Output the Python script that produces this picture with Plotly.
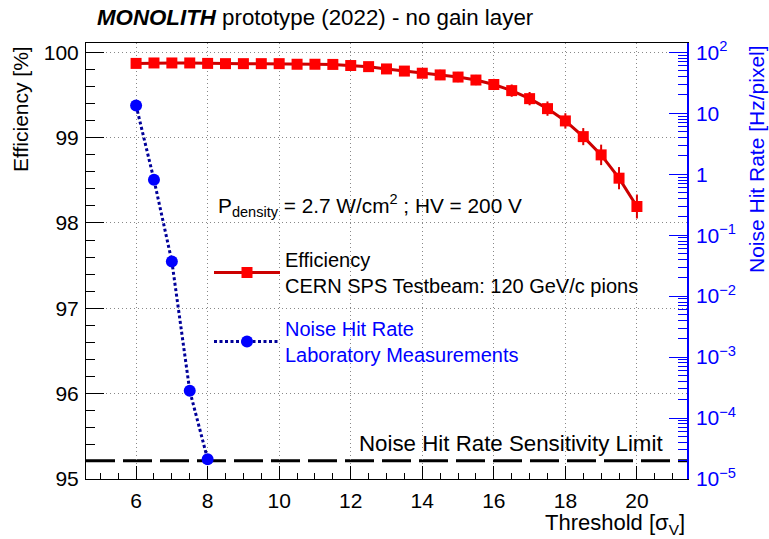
import plotly.graph_objects as go

# ---------------- data ----------------
threshold_eff = [6.0, 6.5, 7.0, 7.5, 8.0, 8.5, 9.0, 9.5, 10.0, 10.5, 11.0, 11.5, 12.0, 12.5,
                 13.0, 13.5, 14.0, 14.5, 15.0, 15.5, 16.0, 16.5, 17.0, 17.5, 18.0, 18.5,
                 19.0, 19.5, 20.0]
efficiency = [99.870, 99.875, 99.875, 99.875, 99.870, 99.867, 99.867, 99.867, 99.867, 99.860,
              99.860, 99.858, 99.845, 99.832, 99.805, 99.780, 99.755, 99.735, 99.710, 99.675,
              99.623, 99.551, 99.457, 99.340, 99.196, 99.012, 98.798, 98.525, 98.193]
efficiency_err = [0.04, 0.04, 0.04, 0.04, 0.04, 0.04, 0.04, 0.04, 0.04, 0.04, 0.04, 0.04,
                  0.04, 0.05, 0.05, 0.05, 0.05, 0.06, 0.06, 0.06, 0.066, 0.072, 0.078,
                  0.084, 0.09, 0.10, 0.12, 0.13, 0.14]

threshold_noise = [6.0, 6.5, 7.0, 7.5, 8.0]
noise_rate = [13.4, 0.81, 0.037, 2.8e-4, 2.1e-5]
noise_limit = 2e-5

x_ticks = [6, 8, 10, 12, 14, 16, 18, 20]
eff_ticks = [95, 96, 97, 98, 99, 100]
noise_ticks = [1e-5, 1e-4, 1e-3, 1e-2, 1e-1, 1, 10, 100]
noise_tick_labels = ["10<sup>\u22125</sup>", "10<sup>\u22124</sup>", "10<sup>\u22123</sup>",
                     "10<sup>\u22122</sup>", "10<sup>\u22121</sup>", "1", "10", "10<sup>2</sup>"]
noise_minor = [m * t for t in noise_ticks[:-1] for m in range(2, 10)]

x_range = [4.6, 21.4]
eff_range = [95.0, 100.109]
# right axis maps 95% -> 1e-5 and 100% -> 1e2
log_range = [-5.0, -5.0 + (eff_range[1] - 95.0) * 7.0 / 5.0]

FONT = "Liberation Sans, Arial, Helvetica, sans-serif"
L, R, T, B = 86, 687, 43, 479
W, H = 769, 539


def px(xp):
    return (xp - L) / (R - L)


def py(yp):
    return (B - yp) / (B - T)


fig = go.Figure()

fig.add_trace(go.Scatter(
    x=threshold_eff, y=efficiency,
    error_y=dict(type="data", array=efficiency_err, color="#dd0000", thickness=2, width=0),
    mode="lines+markers",
    line=dict(color="#cc0000", width=3),
    marker=dict(symbol="square", size=11, color="#ff0000"),
    name="Efficiency<br>CERN SPS Testbeam: 120 GeV/c pions",
    legendgroup="a", yaxis="y",
))

fig.add_trace(go.Scatter(
    x=threshold_noise, y=noise_rate,
    mode="lines+markers",
    line=dict(color="#000099", width=3, dash="3px,2.5px"),
    marker=dict(symbol="circle", size=12, color="#0000ff"),
    name="<span style='color:#0000ff'>Noise Hit Rate</span><br>"
         "<span style='color:#0000ff'>Laboratory Measurements</span>",
    legendgroup="b", yaxis="y2",
))

fig.add_shape(type="line", xref="paper", x0=0, x1=1, yref="y2", y0=noise_limit, y1=noise_limit,
              line=dict(color="black", width=3, dash="29px,8px"), layer="below")

annotations = [
    dict(text="<b><i>MONOLITH</i></b> prototype (2022) - no gain layer",
         x=px(95), y=py(18), xanchor="left", yanchor="middle",
         font=dict(size=22.3, color="black")),
    dict(text="P<sub>density</sub> = 2.7 W/cm<sup>2</sup> ; HV = 200 V",
         x=px(216), y=py(205), xanchor="left", yanchor="middle",
         font=dict(size=20.8, color="black")),
    dict(text="Noise Hit Rate Sensitivity Limit",
         x=px(665), y=py(443), xanchor="right", yanchor="middle",
         font=dict(size=22.3, color="black")),
    dict(text="Efficiency [%]", textangle=-90,
         x=px(20), y=py(44), xanchor="center", yanchor="top",
         font=dict(size=21, color="black")),
    dict(text="Noise Hit Rate [Hz/pixel]", textangle=-90,
         x=px(756), y=py(43), xanchor="center", yanchor="top",
         font=dict(size=21, color="#0000ff")),
    dict(text="Threshold [\u03c3<sub>V</sub>]",
         x=px(687), y=py(524), xanchor="right", yanchor="middle",
         font=dict(size=22, color="black")),
]
for a in annotations:
    a.update(xref="paper", yref="paper", showarrow=False)

grid = dict(showgrid=True, gridcolor="#888888", griddash="1px,3px", gridwidth=1)

fig.update_layout(
    width=W, height=H,
    margin=dict(l=L, r=W - R, t=T, b=H - B, pad=0),
    paper_bgcolor="white", plot_bgcolor="white",
    font=dict(family=FONT, color="black"),
    showlegend=True,
    legend=dict(x=px(209), y=py(240), xanchor="left", yanchor="top",
                bgcolor="rgba(0,0,0,0)", borderwidth=0,
                font=dict(size=20, color="black"),
                itemwidth=66, tracegroupgap=14, traceorder="grouped"),
    annotations=annotations,
    xaxis=dict(range=x_range, tickvals=x_ticks, ticks="inside", ticklen=13, tickwidth=1,
               tickcolor="black", tickfont=dict(size=21), showline=True, mirror=True,
               linecolor="black", linewidth=1, zeroline=False, ticklabelstandoff=3,
               minor=dict(dtick=0.5, tick0=0, ticks="inside", ticklen=6, tickcolor="black",
                          showgrid=False),
               **grid),
    yaxis=dict(range=eff_range, tickvals=eff_ticks, ticks="inside", ticklen=18, tickwidth=1,
               tickcolor="black", tickfont=dict(size=21), showline=True, mirror=False,
               linecolor="black", linewidth=1, zeroline=False, ticklabelstandoff=2,
               minor=dict(dtick=0.2, tick0=95, ticks="inside", ticklen=9, tickcolor="black",
                          showgrid=False),
               **grid),
    yaxis2=dict(type="log", range=log_range, overlaying="y", side="right",
                tickvals=noise_ticks, ticktext=noise_tick_labels,
                ticks="inside", ticklen=18, tickwidth=1, tickcolor="#0000ff",
                tickfont=dict(size=21, color="#0000ff"), showline=True,
                linecolor="#0000ff", linewidth=1.5, showgrid=False, zeroline=False,
                ticklabelstandoff=3,
                minor=dict(tickvals=noise_minor, ticks="inside", ticklen=9,
                           tickcolor="#0000ff", showgrid=False)),
)

fig.write_html("out.html")
